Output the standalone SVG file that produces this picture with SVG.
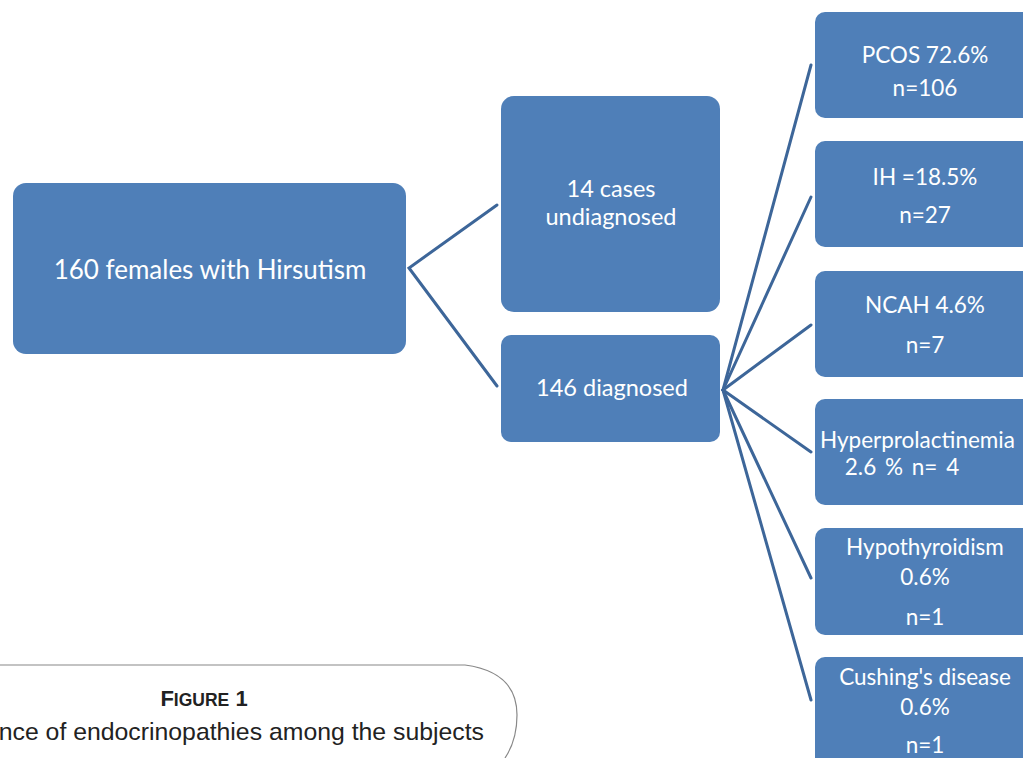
<svg xmlns="http://www.w3.org/2000/svg" width="1023" height="758" viewBox="0 0 1023 758">
<style>
.box{fill:#4f7fb8;}
.t{fill:#ffffff;font-family:Lato,"Open Sans",sans-serif;font-size:26px;text-anchor:middle;}
.m{fill:#ffffff;font-family:Lato,"Open Sans",sans-serif;font-size:23.5px;text-anchor:middle;}
.s{fill:#ffffff;font-family:Lato,"Open Sans",sans-serif;font-size:22.5px;text-anchor:middle;}
.c{fill:none;stroke:#3d6699;stroke-width:3;stroke-linecap:round;}
.cap{font-family:"Liberation Sans",Arial,sans-serif;fill:#222;}
</style>
<rect width="1023" height="758" fill="#ffffff"/>
<g id="connectors">
<polyline class="c" points="497,205 409,268 497,386"/>
<line class="c" x1="723" y1="390" x2="811" y2="65"/>
<line class="c" x1="723" y1="390" x2="811" y2="197"/>
<line class="c" x1="723" y1="390" x2="811" y2="325"/>
<line class="c" x1="723" y1="390" x2="811" y2="452"/>
<line class="c" x1="723" y1="390" x2="811" y2="578"/>
<line class="c" x1="723" y1="390" x2="811" y2="700"/>
</g>
<g id="root"><rect class="box" x="13" y="183" width="393" height="171" rx="13"/><text class="t" x="210" y="279">160 females with Hirsutism</text></g>
<g id="undiagnosed"><rect class="box" x="501" y="96" width="219" height="216" rx="13"/><text class="m" x="611" y="197">14  cases</text><text class="m" x="611" y="225">undiagnosed</text></g>
<g id="diagnosed"><rect class="box" x="501" y="335" width="219" height="107" rx="10"/><text class="m" x="612" y="396">146 diagnosed</text></g>
<g id="pcos"><rect class="box" x="815" y="12" width="230" height="106" rx="10"/><text class="s" x="925" y="63">PCOS 72.6%</text><text class="s" x="925" y="96">n=106</text></g>
<g id="ih"><rect class="box" x="815" y="141" width="230" height="106" rx="10"/><text class="s" x="925" y="185">IH =18.5%</text><text class="s" x="925" y="223">n=27</text></g>
<g id="ncah"><rect class="box" x="815" y="271" width="230" height="106" rx="10"/><text class="s" x="925" y="313">NCAH 4.6%</text><text class="s" x="925" y="353">n=7</text></g>
<g id="hyperprolactinemia"><rect class="box" x="815" y="399" width="230" height="106" rx="10"/><text class="s" x="820" y="448" style="text-anchor:start">Hyperprolactinemia</text><text class="s" x="902" y="475" style="word-spacing:3px">2.6 % n= 4</text></g>
<g id="hypothyroidism"><rect class="box" x="815" y="528" width="230" height="107" rx="10"/><text class="s" x="925" y="555">Hypothyroidism</text><text class="s" x="925" y="585">0.6%</text><text class="s" x="925" y="625">n=1</text></g>
<g id="cushing"><rect class="box" x="815" y="657" width="230" height="110" rx="10"/><text class="s" x="925" y="685">Cushing's disease</text><text class="s" x="925" y="715">0.6%</text><text class="s" x="925" y="753">n=1</text></g>
<g id="caption">
<path d="M0,665 H465 Q517,672 517,715 Q517,740 505,758" fill="none" stroke="#888" stroke-width="1.2"/>
<text class="cap" x="204" y="706" text-anchor="middle" font-weight="bold" font-size="22">F<tspan font-size="17.5">IGURE</tspan> 1</text>
<text class="cap" x="484" y="740" text-anchor="end" font-size="24.8">nce of endocrinopathies among the subjects</text>
</g>
</svg>
